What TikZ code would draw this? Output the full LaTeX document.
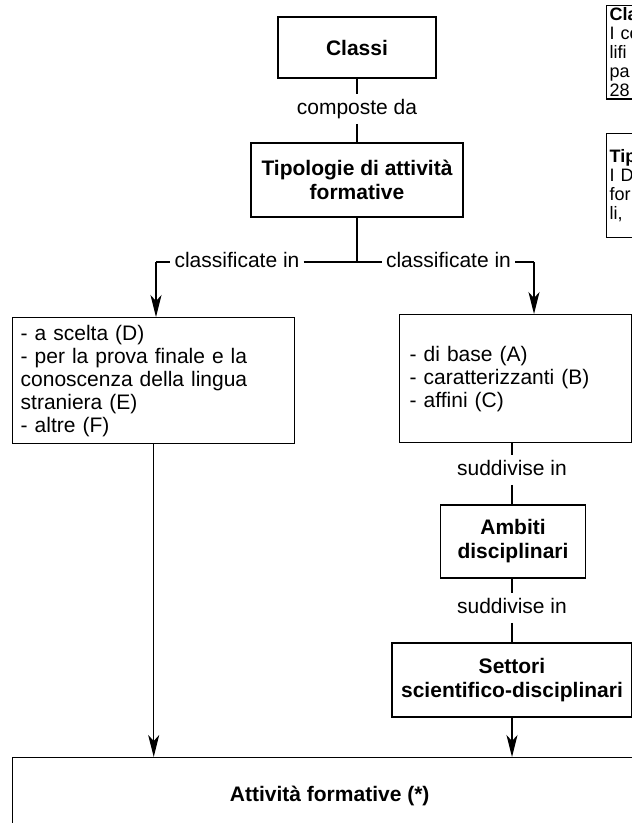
\documentclass[tikz,border=0pt]{standalone}
\usepackage{fontspec}
\setmainfont{Liberation Sans}
\usetikzlibrary{arrows.meta}
\newcommand\mfs{\fontsize{21pt}{23pt}\selectfont}
\newcommand\bfs{\fontsize{21pt}{24pt}\selectfont\bfseries}
\newcommand\sfs{\fontsize{18pt}{19pt}\selectfont}
\begin{document}
\begin{tikzpicture}[x=1pt,y=-1pt,
  box/.style={draw, line width=1.4pt, inner sep=0pt, align=center, font=\bfs},
  listbox/.style={draw, line width=1.4pt, inner ysep=0pt, align=left, font=\mfs, anchor=north west},
  lab/.style={font=\mfs, inner xsep=4pt, inner ysep=5pt, text height=15pt, text depth=4.5pt},
  conn/.style={line width=1.2pt},
  arr/.style={conn, -{Stealth[length=22pt,width=11pt,inset=6pt]}},
  side/.style={draw, line width=1.4pt, anchor=north west, align=left, font=\sfs, inner xsep=3pt}]
\useasboundingbox (0,0) rectangle (632,823);
\fill[white] (0,0) rectangle (632,823);
\clip (0,0) rectangle (632,823);

% main column
\node[box, minimum width=158pt, minimum height=61pt] (classi) at (357,47.5) {Classi};
\node[lab] (comp) at (357,109) {composte da};
\node[box, minimum width=212pt, minimum height=74pt] (tipo) at (357,180) {Tipologie di attività\\formative};
\draw[conn] (classi) -- (comp);
\draw[conn] (comp) -- (tipo);

% split
\coordinate (j) at (357,262);
\coordinate (cl) at (156,262);
\coordinate (cr) at (534,262);
\node[lab, inner ysep=0pt] (ll) at (237,262) {classificate in};
\node[lab, inner ysep=0pt] (rl) at (448.5,262) {classificate in};
\draw[conn] (tipo) -- (j);
\draw[conn] (ll.east) -- (rl.west);
\draw[conn] (cl) -- (ll.west);
\draw[conn] (rl.east) -- (cr);

\node[listbox, text width=266pt, inner xsep=8pt, minimum height=126pt] (lbox) at (12,317)
  {- a scelta (D)\\- per la prova finale e la\\conoscenza della lingua\\straniera (E)\\- altre (F)};
\node[listbox, text width=212pt, inner xsep=10pt, minimum height=128pt] (rbox) at (399,314)
  {- di base (A)\\- caratterizzanti (B)\\- affini (C)};
\draw[arr] (cl) -- (cl |- lbox.north);
\draw[arr] (cr) -- (cr |- rbox.north);

% right chain
\node[lab] (sud1) at (512,470) {suddivise in};
\node[box, minimum width=145pt, minimum height=73pt] (amb) at (513,541.5) {Ambiti\\disciplinari};
\node[lab] (sud2) at (512,608) {suddivise in};
\node[box, minimum width=240pt, minimum height=74pt] (set) at (512,680) {Settori\\scientifico-disciplinari};
\draw[conn] (sud1 |- rbox.south) -- (sud1);
\draw[conn] (sud1) -- (sud1 |- amb.north);
\draw[conn] (sud2 |- amb.south) -- (sud2);
\draw[conn] (sud2) -- (sud2 |- set.north);

% bottom
\node[box, minimum width=634pt, minimum height=76pt, anchor=north west] (att) at (12,757) {Attività formative (*)};
\draw[arr] (lbox.south) -- (lbox.south |- att.north);
\draw[arr] (set.south) -- (set.south |- att.north);

% side boxes (cut at the right edge)
\node[side, inner ysep=2pt, text width=120pt] (sb1) at (606,5) {\textbf{Classi}\\I co\\lifi\\pa\\28};
\node[side, inner ysep=0pt, minimum height=104pt, text width=120pt] (sb2) at (606,133) {\textbf{Tipologie}\\I D\\for\\li,};
\end{tikzpicture}
\end{document}
